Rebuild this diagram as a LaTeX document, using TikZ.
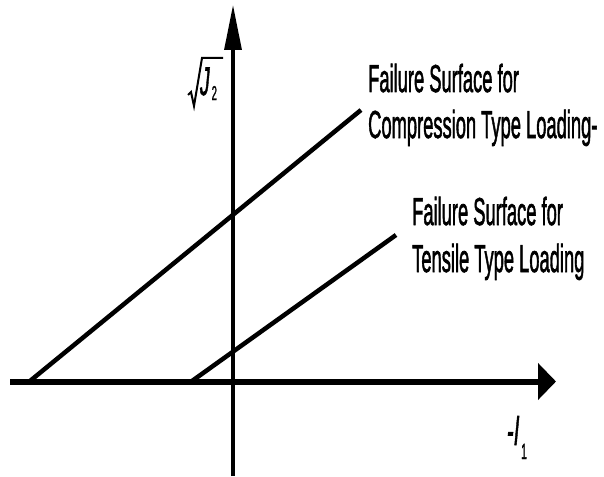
\documentclass[tikz,border=0pt]{standalone}
\usepackage{fontspec}
\setmainfont{Liberation Sans}
\newfontfamily\heavyfont[FakeBold=2]{Liberation Sans}
\newfontfamily\heavyital[FakeBold=2,FakeSlant=0.2]{Liberation Sans}
\usetikzlibrary{arrows.meta}
\begin{document}
\begin{tikzpicture}[x=1pt,y=-1pt,
  axis/.style={draw=black},
  failline/.style={draw=black,line width=4.5pt},
  lbl/.style={inner sep=0pt,anchor=base west,font=\heavyfont\fontsize{39}{46}\selectfont},
  sym/.style={inner sep=0pt,anchor=base west}]
\useasboundingbox (0,0) rectangle (604,476);
% axes
\coordinate (xs) at (10,381.5);
\coordinate (xe) at (556,381.5);
\coordinate (ys) at (233,476);
\coordinate (ye) at (233,5);
\draw[axis,line width=6pt,-{Triangle[length=18pt,width=36pt]}] (xs) -- (xe);
\draw[axis,line width=3.2pt,-{Triangle[length=45pt,width=17pt]}] (ys) -- (ye);
% failure lines
\coordinate (c0) at (30,381);
\coordinate (c1) at (361,110);
\coordinate (t0) at (192,381);
\coordinate (t1) at (396,235);
\draw[failline] (c0) -- (c1);
\draw[failline] (t0) -- (t1);
% labels
\node[lbl] (cl1) at (368,92) {\scalebox{0.47}[1]{Failure Surface for}};
\node[lbl] (cl2) at (368,138) {\scalebox{0.47}[1]{Compression Type Loading-}};
\node[lbl] (tl1) at (412,225) {\scalebox{0.47}[1]{Failure Surface for}};
\node[lbl] (tl2) at (412,272) {\scalebox{0.47}[1]{Tensile Type Loading}};
% sqrt J2
\draw[line width=2pt,line join=miter] (188,95) -- (191,92) -- (194,106) -- (202,58) -- (223,58);
\node[sym,font=\heavyital\fontsize{40}{44}\selectfont] (J) at (199,95) {\scalebox{0.47}[1]{J}};
\node[sym,font=\heavyfont\fontsize{20}{22}\selectfont] (J2) at (211.5,100) {\scalebox{0.47}[1]{2}};
% -I1
\node[sym,font=\heavyital\fontsize{42}{46}\selectfont] (I) at (506,445) {\scalebox{0.47}[1]{-I}};
\node[sym,font=\heavyfont\fontsize{22}{24}\selectfont] (I1) at (521,459) {\scalebox{0.47}[1]{1}};
\end{tikzpicture}
\end{document}
